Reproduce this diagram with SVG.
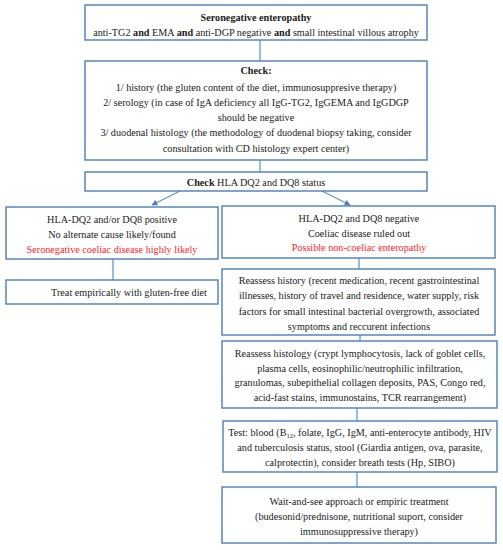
<svg xmlns="http://www.w3.org/2000/svg" width="503" height="550" viewBox="0 0 503 550">
<defs>
<style>
.box{fill:#fff;stroke:#4a7ebb;stroke-width:1.4}
.t{font-family:'Liberation Serif','Times New Roman',serif;font-size:10.2px;fill:#1a1a1a;text-anchor:middle}
.b{font-weight:bold}
.r{fill:#ff1a1a}
.c{stroke:#5b9bd5;stroke-width:1.3;fill:none}
</style>
<marker id="ah" viewBox="0 0 10 10" refX="9" refY="5" markerWidth="6" markerHeight="6" orient="auto" markerUnits="userSpaceOnUse">
<path d="M0,0 L10,5 L0,10 z" fill="#4a7ebb"/>
</marker>
</defs>
<rect width="503" height="550" fill="#fff"/>
<g id="connectors">
<line class="c" x1="260" y1="40" x2="260" y2="61"/>
<line class="c" x1="260" y1="160" x2="260" y2="172"/>
<line class="c" x1="180" y1="191" x2="152" y2="205" marker-end="url(#ah)"/>
<line class="c" x1="322" y1="191" x2="350" y2="205" marker-end="url(#ah)"/>
<line class="c" x1="113" y1="259" x2="113" y2="280"/>
<line class="c" x1="359" y1="258" x2="359" y2="269"/>
<line class="c" x1="360" y1="335" x2="360" y2="341"/>
<line class="c" x1="357" y1="408" x2="357" y2="421"/>
<line class="c" x1="357" y1="472" x2="357" y2="487"/>
</g>
<g id="n1" font-family="'Liberation Serif','Times New Roman',serif">
<rect class="box" x="85" y="5" width="342" height="35"/>
<text class="t b" x="256" y="21">Seronegative enteropathy</text>
<text class="t" x="256" y="36">anti-TG2 <tspan class="b">and</tspan> EMA <tspan class="b">and</tspan> anti-DGP negative <tspan class="b">and</tspan> small intestinal villous atrophy</text>
</g>
<g id="n2">
<rect class="box" x="85" y="61" width="342" height="99"/>
<text class="t b" x="256" y="74">Check:</text>
<text class="t" x="256" y="91">1/ history (the gluten content of the diet, immunosuppresive therapy)</text>
<text class="t" x="256" y="106">2/ serology (in case of IgA deficiency all IgG-TG2, IgGEMA and IgGDGP</text>
<text class="t" x="256" y="121">should be negative</text>
<text class="t" x="256" y="136">3/ duodenal histology (the methodology of duodenal biopsy taking, consider</text>
<text class="t" x="256" y="152">consultation with CD histology expert center)</text>
</g>
<g id="n3">
<rect class="box" x="85" y="172" width="342" height="19"/>
<text class="t" x="256" y="186"><tspan class="b">Check</tspan> HLA DQ2 and DQ8 status</text>
</g>
<g id="n4">
<rect class="box" x="6" y="207" width="212" height="52"/>
<text class="t" x="112" y="223">HLA-DQ2 and/or DQ8 positive</text>
<text class="t" x="112" y="238">No alternate cause likely/found</text>
<text class="t r" x="112" y="253">Seronegative coeliac disease highly likely</text>
</g>
<g id="n5">
<rect class="box" x="6" y="280" width="212" height="24"/>
<text class="t" x="129" y="296">Treat empirically with gluten-free diet</text>
</g>
<g id="n6">
<rect class="box" x="222" y="206" width="273" height="52"/>
<text class="t" x="359" y="222">HLA-DQ2 and DQ8 negative</text>
<text class="t" x="359" y="237">Coeliac disease ruled out</text>
<text class="t r" x="359" y="251">Possible non-coeliac enteropathy</text>
</g>
<g id="n7">
<rect class="box" x="222" y="269" width="273" height="66"/>
<text class="t" x="359" y="284">Reassess history (recent medication, recent gastrointestinal</text>
<text class="t" x="359" y="299">illnesses, history of travel and residence, water supply, risk</text>
<text class="t" x="359" y="315">factors for small intestinal bacterial overgrowth, associated</text>
<text class="t" x="359" y="330">symptoms and reccurent infections</text>
</g>
<g id="n8">
<rect class="box" x="222" y="341" width="275" height="67"/>
<text class="t" x="360" y="357">Reassess histology (crypt lymphocytosis, lack of goblet cells,</text>
<text class="t" x="360" y="372">plasma cells, eosinophilic/neutrophilic infiltration,</text>
<text class="t" x="360" y="386">granulomas, subepithelial collagen deposits, PAS, Congo red,</text>
<text class="t" x="360" y="401">acid-fast stains, immunostains, TCR rearrangement)</text>
</g>
<g id="n9">
<rect class="box" x="223" y="421" width="274" height="51"/>
<text class="t" x="360" y="436">Test: blood (B<tspan font-size="6.5" dy="2">12</tspan><tspan dy="-2">, folate, IgG, IgM, anti-enterocyte antibody, HIV</tspan></text>
<text class="t" x="360" y="451">and tuberculosis status, stool (Giardia antigen, ova, parasite,</text>
<text class="t" x="360" y="466">calprotectin), consider breath tests (Hp, SIBO)</text>
</g>
<g id="n10">
<rect class="box" x="222" y="487" width="274" height="56"/>
<text class="t" x="359" y="505">Wait-and-see approach or empiric treatment</text>
<text class="t" x="359" y="520">(budesonid/prednisone, nutritional suport, consider</text>
<text class="t" x="359" y="535">immunosuppressive therapy)</text>
</g>
</svg>
